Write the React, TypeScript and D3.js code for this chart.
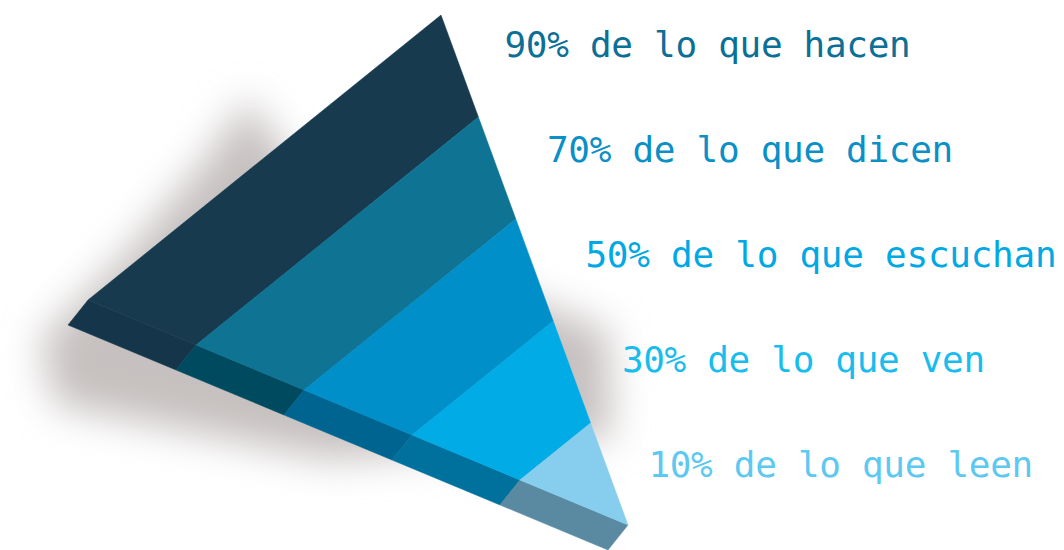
import React from "react";
import * as d3 from "d3";

// ---- data ----
const percents = [90, 70, 50, 30, 10];
const phrases = ["de lo que hacen", "de lo que dicen", "de lo que escuchan", "de lo que ven", "de lo que leen"];
const topColors = ["#173A4E", "#0F7393", "#008FC8", "#00ABE6", "#87CEEE"];
const sideColors = ["#15364A", "#004A5F", "#006490", "#00709C", "#5A8AA2"];
const textColors = ["#0B6F96", "#0A8FC6", "#00A9E3", "#18BDED", "#5DC9F0"];

const W = 1064;
const H = 550;

type P = [number, number];
const A: P = [441, 15]; // top apex
const L: P = [88, 300]; // left corner
const T: P = [628, 525]; // right tip
const OFF: P = [-20, 25]; // extrusion of the front face

const lerp = (p: P, q: P, t: number): P => [p[0] + (q[0] - p[0]) * t, p[1] + (q[1] - p[1]) * t];
const add = (p: P, o: P): P => [p[0] + o[0], p[1] + o[1]];

export default function App() {
  const n = percents.length;
  const band = d3.scaleLinear().domain([0, n]).range([0, 1]);
  const line = d3.line<P>();
  const poly = (pts: P[]) => (line(pts) as string) + "Z";

  const rowY = d3.scaleLinear().domain([0, n - 1]).range([57, 477]);
  const xNudge = [0, 4, 4, 2, -10];

  const shadowPts: P[] = [
    [248, 98], [205, 160], [120, 260], [40, 340], [55, 405], [330, 460], [612, 438], [608, 330], [420, 260], [300, 175],
  ];

  return (
    <svg width={W} height={H} viewBox={`0 0 ${W} ${H}`} style={{ display: "block", position: "absolute", left: 0, top: 0 }}>
      <defs>
        <filter id="blur" x="-50%" y="-50%" width="200%" height="200%">
          <feGaussianBlur stdDeviation="19" />
        </filter>
      </defs>
      <rect width={W} height={H} fill="#ffffff" />
      <path d={poly(shadowPts)} fill="#c6c1c0" filter="url(#blur)" />
      {percents.map((_, i) => {
        const t0 = band(i);
        const t1 = band(i + 1);
        const l0 = lerp(L, T, t0);
        const l1 = lerp(L, T, t1);
        return (
          <path key={"s" + i} d={poly([l0, l1, add(l1, OFF), add(l0, OFF)])} fill={sideColors[i]} stroke={sideColors[i]} strokeWidth={0.5} />
        );
      })}
      {percents.map((_, i) => {
        const t0 = band(i);
        const t1 = band(i + 1);
        const pts: P[] = [lerp(A, T, t0), lerp(A, T, t1), lerp(L, T, t1), lerp(L, T, t0)];
        return <path key={"t" + i} d={poly(pts)} fill={topColors[i]} stroke={topColors[i]} strokeWidth={0.5} />;
      })}
      {percents.map((p, i) => {
        const y = rowY(i);
        const edgeT = (y - A[1]) / (T[1] - A[1]);
        const x = lerp(A, T, edgeT)[0] + 48 + xNudge[i];
        const label = `${p}% ${phrases[i]}`;
        return (
          <text
            key={"l" + i}
            x={x}
            y={y}
            fill={textColors[i]}
            fontFamily="'DejaVu Sans Mono', monospace"
            fontSize={36}
            textLength={label.length * 21.6 - 4}
            lengthAdjust="spacing"
          >
            {label}
          </text>
        );
      })}
    </svg>
  );
}
